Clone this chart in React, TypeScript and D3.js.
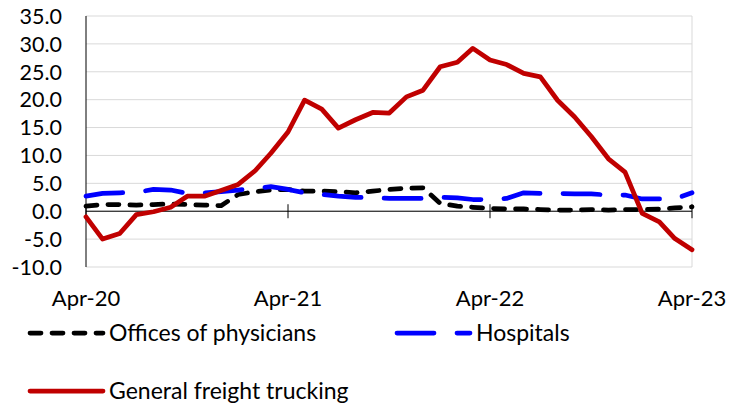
import * as d3 from "d3";

// monthly, Apr-2020 .. Apr-2023
const months = d3.timeMonth.range(new Date(2020, 3, 1), new Date(2023, 4, 1));
const tickLabels = ["Apr-20", "Apr-21", "Apr-22", "Apr-23"];
const yTicks = [-10, -5, 0, 5, 10, 15, 20, 25, 30, 35];

const physicians = [
  0.9, 1.2, 1.2, 1.1, 1.2, 1.3, 1.2, 1.1, 1.0, 3.0, 3.5, 3.8, 3.9, 3.6, 3.6,
  3.5, 3.3, 3.6, 3.9, 4.1, 4.2, 1.4, 0.9, 0.7, 0.5, 0.4, 0.4, 0.3, 0.2, 0.2,
  0.3, 0.2, 0.3, 0.3, 0.4, 0.6, 0.8,
];
const hospitals = [
  2.7, 3.2, 3.3, 3.4, 3.9, 3.8, 3.2, 3.3, 3.5, 3.8, 4.1, 4.4, 3.9, 3.3, 3.0,
  2.7, 2.5, 2.4, 2.3, 2.3, 2.3, 2.5, 2.4, 2.1, 2.1, 2.3, 3.3, 3.2, 3.2, 3.1,
  3.1, 2.9, 2.9, 2.2, 2.2, 2.2, 3.3,
];
const trucking = [
  -1.0, -5.0, -4.0, -0.6, -0.1, 0.7, 2.7, 2.7, 3.7, 4.8, 7.3, 10.4, 14.2, 19.9,
  18.3, 14.9, 16.4, 17.7, 17.6, 20.5, 21.7, 25.9, 26.7, 29.2, 27.1, 26.3, 24.7,
  24.1, 19.9, 16.9, 13.4, 9.4, 7.0, -0.4, -1.9, -4.9, -6.9,
];

const series = [
  { name: "Offices of physicians", values: physicians, color: "#000000", dash: "11,11" },
  { name: "Hospitals", values: hospitals, color: "#0000FF", dash: "37,23" },
  { name: "General freight trucking", values: trucking, color: "#C00000", dash: null },
];

const W = 739;
const H = 406;
const margin = { top: 16, right: 47, bottom: 139, left: 86 };
const font = "Lato, 'Open Sans', sans-serif";

export default function App() {
  const x = d3
    .scaleTime()
    .domain([months[0], months[months.length - 1]])
    .range([margin.left, W - margin.right]);
  const y = d3
    .scaleLinear()
    .domain([-10, 35])
    .range([H - margin.bottom, margin.top]);

  const line = d3
    .line<number>()
    .x((_, i) => x(months[i]))
    .y((v) => y(v));

  const majorTicks = months.filter((m) => m.getMonth() === 3);
  const legend = [
    { s: series[0], lx: 30, ly: 333 },
    { s: series[1], lx: 397, ly: 333 },
    { s: series[2], lx: 30, ly: 391 },
  ];

  return (
    <div style={{ position: "absolute", left: 0, top: 0 }}>
      <svg width={W} height={H} style={{ display: "block", background: "#fff" }}>
        {/* grid */}
        {yTicks.map((t) => (
          <line
            key={t}
            x1={margin.left}
            x2={W - margin.right}
            y1={y(t)}
            y2={y(t)}
            stroke="#d9d9d9"
            strokeWidth={1}
          />
        ))}
        <line
          x1={W - margin.right}
          x2={W - margin.right}
          y1={y(35)}
          y2={y(-10)}
          stroke="#d9d9d9"
        />

        {/* y axis */}
        <line x1={margin.left} x2={margin.left} y1={y(35)} y2={y(-10)} stroke="#000" />
        {yTicks.map((t) => (
          <text
            key={t}
            x={62}
            y={y(t)}
            dy="0.36em"
            textAnchor="end"
            fontFamily={font}
            fontSize={21.5}
            fill="#000"
          >
            {t.toFixed(1)}
          </text>
        ))}

        {/* x axis */}
        <line x1={margin.left} x2={W - margin.right} y1={y(0)} y2={y(0)} stroke="#000" />
        {majorTicks.map((m, i) => (
          <g key={i}>
            <line x1={x(m)} x2={x(m)} y1={y(0) - 7} y2={y(0) + 7} stroke="#000" />
            <text
              x={x(m)}
              y={306}
              textAnchor="middle"
              fontFamily={font}
              fontSize={22}
              fill="#000"
            >
              {tickLabels[i]}
            </text>
          </g>
        ))}

        {/* lines */}
        {series.map((s) => (
          <path
            key={s.name}
            d={line(s.values) ?? ""}
            fill="none"
            stroke={s.color}
            strokeWidth={4.75}
            strokeLinecap="round"
            strokeLinejoin="round"
            strokeDasharray={s.dash ?? undefined}
          />
        ))}

        {/* legend */}
        {legend.map(({ s, lx, ly }) => (
          <g key={s.name}>
            <line
              x1={lx}
              x2={lx + 73}
              y1={ly}
              y2={ly}
              stroke={s.color}
              strokeWidth={4.75}
              strokeLinecap="round"
              strokeDasharray={s.dash ?? undefined}
            />
            <text
              x={lx + 79}
              y={ly + 8}
              fontFamily={font}
              fontSize={23}
              fill="#000"
            >
              {s.name}
            </text>
          </g>
        ))}
      </svg>
    </div>
  );
}
